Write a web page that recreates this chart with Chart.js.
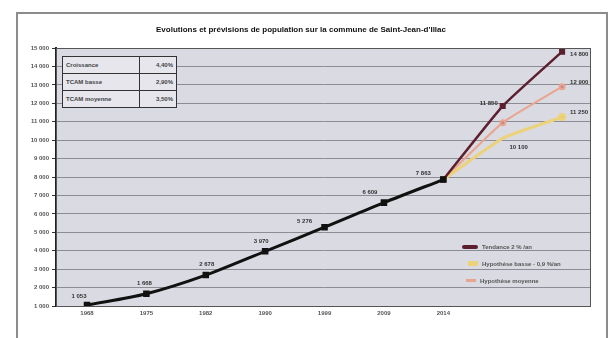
<!DOCTYPE html>
<html>
<head>
<meta charset="utf-8">
<script src="https://cdn.jsdelivr.net/npm/chart.js@4.4.0/dist/chart.umd.min.js"></script>
<style>
    body { margin: 0; width: 612px; height: 338px; overflow: hidden; position: relative; background: #fff; font-family: "Liberation Sans", Arial, sans-serif; }
    #popChart { position: absolute; left: 0; top: 0; }
    #frame { position: absolute; left: 16px; top: 12px; width: 588px; height: 340px; border: 2px solid #8c8c8c; pointer-events: none; }
    #title { position: absolute; left: 0; top: 25px; width: 602px; text-align: center; font-size: 8px; font-weight: bold; color: #111; }
    #rates { position: absolute; left: 62px; top: 56px; border-collapse: collapse; background: #e6e6ec; font-size: 6px; font-weight: bold; color: #444; }
    #rates td { border: 1px solid #333; height: 16px; padding: 0 3px; }
    #rates td.v { text-align: right; width: 30px; }
    #rates td.k { width: 70px; }
    #legend { position: absolute; left: 462px; top: 238px; font-size: 6px; font-weight: bold; color: #555; }
    #legend div { height: 17px; display: flex; align-items: center; }
    #legend span.sw { display: inline-block; width: 16px; margin-right: 4px; }
</style>
</head>
<body>
<canvas id="popChart" width="612" height="338"></canvas>
<div id="title">Evolutions et prévisions de population sur la commune de Saint-Jean-d'Illac</div>
<table id="rates"></table>
<div id="legend"></div>
<div id="frame"></div>
<script>
const years = ['1968', '1975', '1982', '1990', '1999', '2009', '2014', '2020', '2030'];
const population = [1053, 1668, 2678, 3970, 5276, 6609, 7863, null, null];
const projHigh = [null, null, null, null, null, null, 7863, 11850, 14800];
const projMid = [null, null, null, null, null, null, 7863, 10950, 12900];
const projLow = [null, null, null, null, null, null, 7863, 10100, 11250];

const rateNames = ['Croissance', 'TCAM basse', 'TCAM moyenne'];
const rateValues = ['4,40%', '2,90%', '3,50%'];

const seriesNames = ['Tendance 2 % /an', 'Hypothèse basse - 0,9 %/an', 'Hypothèse moyenne'];

const fmt = n => String(n).replace(/\B(?=(\d{3})+(?!\d))/g, ' ');
const toPoints = arr => arr.map((v, i) => ({ x: i, y: v }));

// table of growth rates
document.getElementById('rates').innerHTML = rateNames
    .map((n, i) => '<tr><td class="k">' + n + '</td><td class="v">' + rateValues[i] + '</td></tr>')
    .join('');

// labels drawn next to the points
const pointLabels = {
    id: 'pointLabels',
    afterDatasetsDraw(chart) {
        const ctx = chart.ctx;
        ctx.save();
        ctx.font = 'bold 6px "Liberation Sans", Arial, sans-serif';
        ctx.fillStyle = '#333';
        ctx.textBaseline = 'middle';
        chart.data.datasets.forEach((ds, di) => {
            const spots = ds.labelSpots || {};
            const meta = chart.getDatasetMeta(di);
            Object.keys(spots).forEach(k => {
                const el = meta.data[k];
                const v = ds.data[k].y;
                if (!el || v == null) return;
                const [dx, dy, align] = spots[k];
                ctx.textAlign = align;
                ctx.fillText(fmt(v), el.x + dx, el.y + dy);
            });
        });
        ctx.restore();
    }
};

// plot background and frame
const plotBg = {
    id: 'plotBg',
    beforeDraw(chart) {
        const a = chart.chartArea;
        const ctx = chart.ctx;
        ctx.save();
        ctx.fillStyle = '#dadae2';
        ctx.fillRect(a.left, a.top, a.right - a.left, a.bottom - a.top);
        ctx.restore();
    },
    afterDraw(chart) {
        const a = chart.chartArea;
        const ctx = chart.ctx;
        ctx.save();
        ctx.strokeStyle = '#555';
        ctx.lineWidth = 1;
        ctx.strokeRect(a.left + 0.5, a.top + 0.5, a.right - a.left, a.bottom - a.top);
        ctx.restore();
    }
};

const ctx = document.getElementById('popChart').getContext('2d');
const chart = new Chart(ctx, {
    type: 'line',
    data: {
        datasets: [{
            label: 'Population',
            data: toPoints(population),
            borderColor: '#111',
            backgroundColor: '#111',
            borderWidth: 3,
            pointStyle: 'rect',
            pointRadius: 2.5,
            tension: 0.3,
            labelSpots: { 0: [-8, -9, 'center'], 1: [-2, -10, 'center'], 2: [1, -11, 'center'], 3: [-4, -10, 'center'], 4: [-20, -6, 'center'], 5: [-14, -10, 'center'], 6: [-20, -6, 'center'] }
        }, {
            label: seriesNames[0],
            data: toPoints(projHigh),
            borderColor: '#5c1f2e',
            backgroundColor: '#5c1f2e',
            borderWidth: 2.5,
            pointStyle: 'rect',
            pointRadius: 2.5,
            tension: 0.15,
            labelSpots: { 7: [-14, -3, 'center'], 8: [8, 3, 'left'] }
        }, {
            label: seriesNames[1],
            data: toPoints(projLow),
            borderColor: '#ecd27a',
            backgroundColor: '#e6c860',
            borderWidth: 3,
            pointRadius: [0, 0, 0, 0, 0, 0, 0, 0, 2.5],
            tension: 0.15,
            labelSpots: { 7: [16, 9, 'center'], 8: [8, -5, 'left'] }
        }, {
            label: seriesNames[2],
            data: toPoints(projMid),
            borderColor: '#e9a58f',
            backgroundColor: '#c88a8a',
            borderWidth: 2,
            pointRadius: 2.5,
            tension: 0.15,
            labelSpots: { 8: [8, -4, 'left'] }
        }]
    },
    options: {
        animation: false,
        responsive: false,
        devicePixelRatio: 1,
        layout: { padding: { left: 20, right: 22, top: 48, bottom: 10 } },
        scales: {
            x: {
                type: 'linear',
                min: -0.522,
                max: 8.47,
                afterFit: s => { s.height = 22; },
                grid: { display: false, drawTicks: false },
                border: { color: '#555', width: 1 },
                ticks: {
                    stepSize: 1,
                    includeBounds: false,
                    maxRotation: 0,
                    color: '#555',
                    font: { size: 6, weight: 'bold' },
                    padding: 4,
                    callback: v => (Number.isInteger(v) && v <= 6) ? years[v] : ''
                }
            },
            y: {
                min: 1000,
                max: 15000,
                afterFit: s => { s.width = 36; },
                grid: { color: '#8c8c94', lineWidth: 1, tickLength: 4, tickColor: '#333' },
                border: { color: '#222', width: 2 },
                ticks: {
                    stepSize: 1000,
                    color: '#555',
                    font: { size: 6, weight: 'bold' },
                    padding: 3,
                    callback: v => fmt(v)
                }
            }
        },
        plugins: {
            legend: { display: false },
            tooltip: { enabled: false }
        }
    },
    plugins: [plotBg, pointLabels]
});

// legend inside the plot, built from the datasets
const swatches = [
    '<span class="sw" style="height:4px;background:#5c1f2e;border-radius:2px"></span>',
    '<span class="sw" style="height:5px;background:#ecd27a;width:10px;margin-left:6px"></span>',
    '<span class="sw" style="height:3px;background:#e9a58f;width:10px;margin-left:4px"></span>'
];
document.getElementById('legend').innerHTML = seriesNames
    .map((n, i) => '<div>' + swatches[i] + n + '</div>')
    .join('');
</script>
</body>
</html>
